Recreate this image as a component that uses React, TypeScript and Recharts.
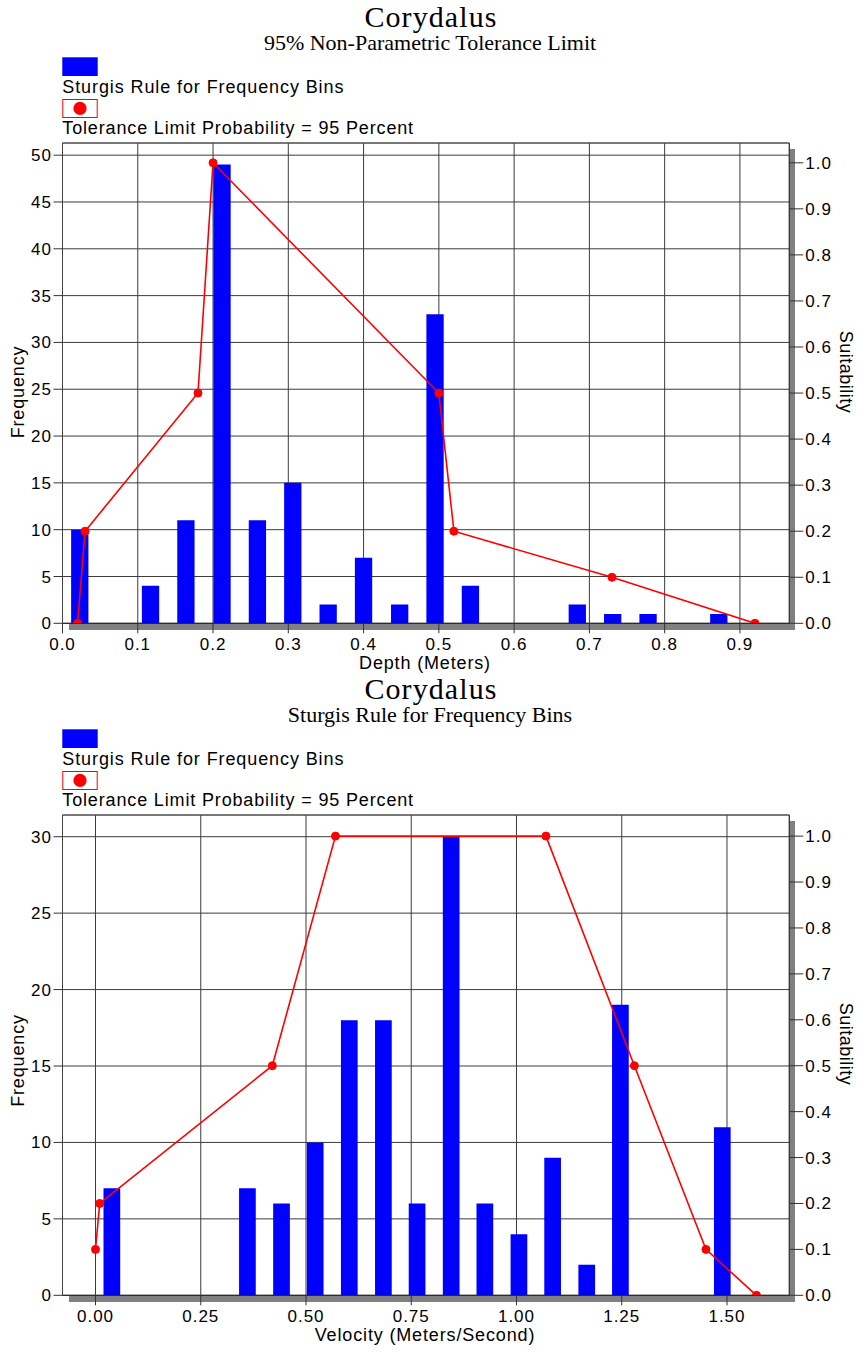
import React from 'react';
import { ComposedChart, Bar, Line, XAxis, YAxis, CartesianGrid } from 'recharts';

// ---------- Data: Depth chart ----------
const depthBinCenters = [0.023, 0.070, 0.117, 0.164, 0.212, 0.259, 0.306, 0.353, 0.400, 0.448, 0.495, 0.542, 0.589, 0.636, 0.684, 0.731, 0.778, 0.825, 0.872];
const depthFrequency = [10, 0, 4, 11, 49, 11, 15, 2, 7, 2, 33, 4, 0, 0, 2, 1, 1, 0, 1];
const depthSuitX = [0.02, 0.03, 0.18, 0.20, 0.50, 0.52, 0.73, 0.92];
const depthSuitability = [0.0, 0.2, 0.5, 1.0, 0.5, 0.2, 0.1, 0.0];
const depthXTicks = [0, 0.1, 0.2, 0.3, 0.4, 0.5, 0.6, 0.7, 0.8, 0.9];
const depthFreqTicks = [0, 5, 10, 15, 20, 25, 30, 35, 40, 45, 50];

// ---------- Data: Velocity chart ----------
const velBinCenters = [0.040, 0.120, 0.201, 0.282, 0.362, 0.443, 0.523, 0.604, 0.685, 0.765, 0.846, 0.926, 1.007, 1.087, 1.168, 1.248, 1.329, 1.410, 1.490];
const velFrequency = [7, 0, 0, 0, 7, 6, 10, 18, 18, 6, 30, 6, 4, 9, 2, 19, 0, 0, 11];
const velSuitX = [0.0, 0.01, 0.42, 0.57, 1.07, 1.28, 1.45, 1.57];
const velSuitability = [0.1, 0.2, 0.5, 1.0, 1.0, 0.5, 0.1, 0.0];
const velXTicks = [0, 0.25, 0.5, 0.75, 1.0, 1.25, 1.5];
const velFreqTicks = [0, 5, 10, 15, 20, 25, 30];

const suitTicks = [0, 0.1, 0.2, 0.3, 0.4, 0.5, 0.6, 0.7, 0.8, 0.9, 1.0];

const title = 'Corydalus';
const legendBars = 'Sturgis Rule for Frequency Bins';
const legendLine = 'Tolerance Limit Probability = 95 Percent';

const range = (a: number, b: number, s: number) =>
  Array.from({ length: Math.round((b - a) / s) + 1 }, (_, i) => +(a + i * s).toFixed(4));

const SANS = '"Liberation Sans", Arial, sans-serif';
const SERIF = '"Liberation Serif", "Times New Roman", serif';

const W = 857;
const H = 672;
const PL = 62.5;
const PT = 143;
const PR = 789.3;
const PB = 623.3;
const YAW = 40; // y axis width
const XAH = 30; // x axis height

const tickStyle = { fill: '#000', fontSize: 17, fontFamily: SANS, letterSpacing: 1 };

type PanelProps = {
  top: number;
  subtitle: string;
  subtitleSize: number;
  xLabel: string;
  bins: number[];
  freq: number[];
  suitX: number[];
  suitY: number[];
  xDomain: [number, number];
  xTicks: number[];
  xDigits: number;
  xMinor: number[];
  yMax: number;
  yTicks: number[];
  yMinor: number[];
  rMax: number;
  barSize: number;
  freqLabelY: number;
  suitLabelY: number;
};

function Panel(p: PanelProps) {
  const barData = p.bins.map((x, i) => ({ x, freq: p.freq[i] }));
  const lineData = p.suitX.map((x, i) => ({ x, suit: p.suitY[i] }));
  const rMinor = range(0, 1.04, 0.02);
  return (
    <div style={{ position: 'absolute', left: 0, top: p.top, width: W, height: H }}>
      <svg width={W} height={H} style={{ position: 'absolute', left: 0, top: 0, overflow: 'visible' }}>
        {/* 3D shadow */}
        <rect x={69} y={PB} width={795 - 69} height={6.7} fill="#808080" />
        <rect x={PR} y={149} width={795 - PR} height={PB + 6.7 - 149} fill="#808080" />
        {/* titles */}
        <text x={431} y={26.7} textAnchor="middle" fontFamily={SERIF} fontSize={30} letterSpacing={1.1} fill="#000">{title}</text>
        <text x={430} y={50} textAnchor="middle" fontFamily={SERIF} fontSize={p.subtitleSize} fill="#000">{p.subtitle}</text>
        {/* legend */}
        <rect x={62.3} y={57.3} width={35.4} height={18.7} fill="#0000ff" />
        <text x={62.3} y={93.3} fontFamily={SANS} fontSize={18} letterSpacing={0.9} fill="#000">{legendBars}</text>
        <rect x={62.8} y={99.5} width={34.4} height={18} fill="#fff" stroke="#ff0000" strokeWidth={1} />
        <circle cx={80} cy={108.4} r={6.6} fill="#ff0000" />
        <text x={62.3} y={134.3} fontFamily={SANS} fontSize={18} letterSpacing={0.85} fill="#000">{legendLine}</text>
        {/* axis labels */}
        <text x={425} y={669} textAnchor="middle" fontFamily={SANS} fontSize={18} letterSpacing={0.85} fill="#000">{p.xLabel}</text>
        <text transform={`translate(24, ${p.freqLabelY}) rotate(-90)`} textAnchor="middle" fontFamily={SANS} fontSize={18} letterSpacing={0.85} fill="#000">Frequency</text>
        <text transform={`translate(839.5, ${p.suitLabelY}) rotate(90)`} textAnchor="middle" fontFamily={SANS} fontSize={18} letterSpacing={0.5} fill="#000">Suitability</text>
      </svg>
      <div style={{ position: 'absolute', left: 0, top: 0 }}>
        <ComposedChart
          width={W}
          height={H}
          data={barData}
          margin={{ top: PT, left: PL - YAW, right: W - PR - YAW, bottom: H - PB - XAH }}
        >
          <CartesianGrid xAxisId="main" yAxisId="left" stroke="#3c3c3c" strokeWidth={1} />
          <XAxis
            xAxisId="main"
            type="number"
            dataKey="x"
            domain={p.xDomain}
            ticks={p.xTicks}
            interval={0}
            allowDataOverflow
            height={XAH}
            tickSize={10}
            tickMargin={4.5}
            tickFormatter={(v: number) => v.toFixed(p.xDigits)}
            tick={tickStyle}
            tickLine={{ stroke: '#333' }}
            axisLine={{ stroke: '#222' }}
          />
          <XAxis
            xAxisId="minor"
            type="number"
            dataKey="x"
            domain={p.xDomain}
            ticks={p.xMinor}
            interval={0}
            allowDataOverflow
            mirror
            height={1}
            tickSize={9}
            tick={false}
            axisLine={false}
            tickLine={{ stroke: '#333' }}
          />
          <XAxis
            xAxisId="border"
            type="number"
            orientation="top"
            domain={p.xDomain}
            ticks={p.xTicks}
            interval={0}
            allowDataOverflow
            mirror
            height={1}
            tick={false}
            tickLine={false}
            axisLine={{ stroke: '#555' }}
          />
          <YAxis
            yAxisId="left"
            type="number"
            domain={[0, p.yMax]}
            ticks={p.yTicks}
            interval={0}
            allowDataOverflow
            width={YAW}
            tickSize={9}
            tickMargin={1.5}
            tick={tickStyle}
            tickLine={{ stroke: '#333' }}
            axisLine={{ stroke: '#444' }}
          />
          <YAxis
            yAxisId="leftMinor"
            type="number"
            domain={[0, p.yMax]}
            ticks={p.yMinor}
            interval={0}
            allowDataOverflow
            mirror
            width={1}
            tickSize={9}
            tick={false}
            axisLine={false}
            tickLine={{ stroke: '#333' }}
          />
          <YAxis
            yAxisId="right"
            orientation="right"
            type="number"
            domain={[0, p.rMax]}
            ticks={suitTicks}
            interval={0}
            allowDataOverflow
            width={YAW}
            tickSize={14}
            tickMargin={2}
            tickFormatter={(v: number) => v.toFixed(1)}
            tick={{ ...tickStyle, textAnchor: 'start' }}
            tickLine={{ stroke: '#333' }}
            axisLine={{ stroke: '#333' }}
          />
          <YAxis
            yAxisId="rightMinor"
            orientation="right"
            type="number"
            domain={[0, p.rMax]}
            ticks={rMinor}
            interval={0}
            allowDataOverflow
            mirror
            width={1}
            tickSize={9}
            tick={false}
            axisLine={false}
            tickLine={{ stroke: '#333' }}
          />
          <Bar
            xAxisId="main"
            yAxisId="left"
            dataKey="freq"
            fill="#0000ff"
            barSize={p.barSize}
            isAnimationActive={false}
          />
          <Line
            xAxisId="minor"
            yAxisId="right"
            data={lineData}
            dataKey="suit"
            type="linear"
            stroke="#ff0000"
            strokeWidth={1.6}
            dot={{ r: 4, fill: '#ff0000', stroke: '#ff0000', strokeWidth: 1 }}
            activeDot={false}
            isAnimationActive={false}
          />
        </ComposedChart>
      </div>
    </div>
  );
}

export default function App() {
  return (
    <div style={{ position: 'absolute', left: 0, top: 0, width: W, height: 1352, background: '#fff' }}>
      <Panel
        top={0}
        subtitle="95% Non-Parametric Tolerance Limit"
        subtitleSize={22}
        xLabel="Depth (Meters)"
        bins={depthBinCenters}
        freq={depthFrequency}
        suitX={depthSuitX}
        suitY={depthSuitability}
        xDomain={[0, 0.9656]}
        xTicks={depthXTicks}
        xDigits={1}
        xMinor={range(0, 0.96, 0.02)}
        yMax={51.3}
        yTicks={depthFreqTicks}
        yMinor={range(0, 51, 1)}
        rMax={1.043}
        barSize={17.3}
        freqLabelY={392}
        suitLabelY={372}
      />
      <Panel
        top={671.5}
        subtitle="Sturgis Rule for Frequency Bins"
        subtitleSize={22}
        xLabel="Velocity (Meters/Second)"
        bins={velBinCenters}
        freq={velFrequency}
        suitX={velSuitX}
        suitY={velSuitability}
        xDomain={[-0.0784, 1.648]}
        xTicks={velXTicks}
        xDigits={2}
        xMinor={range(-0.05, 1.6, 0.05)}
        yMax={31.42}
        yTicks={velFreqTicks}
        yMinor={range(0, 31, 1)}
        rMax={1.046}
        barSize={16.7}
        freqLabelY={1060 - 671.5}
        suitLabelY={372}
      />
    </div>
  );
}
